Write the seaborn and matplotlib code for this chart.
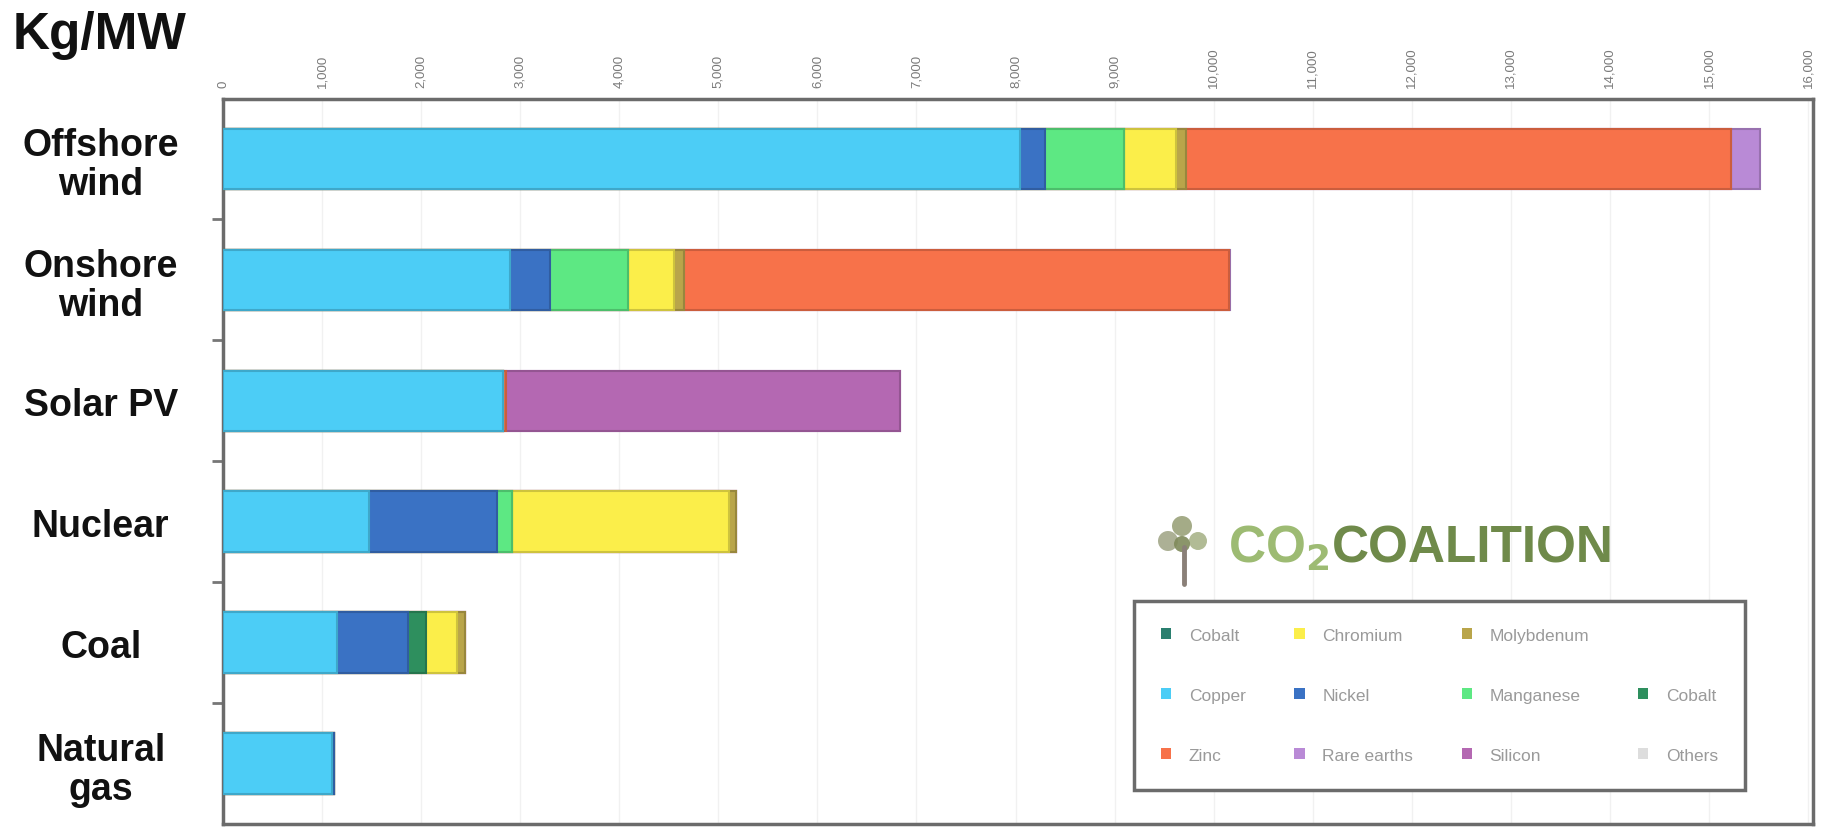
import numpy as np
import pandas as pd
import matplotlib
matplotlib.use("Agg")
import matplotlib.pyplot as plt
import matplotlib.colors as mcolors
from matplotlib.patches import Patch, Ellipse
from matplotlib.lines import Line2D
import seaborn as sns

# ---------------- data (kg per MW) ----------------
categories = ["Offshore\nwind", "Onshore\nwind", "Solar PV", "Nuclear", "Coal", "Natural\ngas"]
copper      = [8050, 2900, 2822, 1473, 1150, 1100]
nickel      = [250, 404, 0, 1297, 721, 20]
manganese   = [790, 780, 0, 148, 0, 0]
cobalt      = [0, 0, 0, 0, 180, 0]
chromium    = [525, 470, 0, 2190, 308, 0]
molybdenum  = [109, 99, 0, 70, 80, 0]
zinc        = [5500, 5500, 30, 0, 0, 0]
silicon     = [0, 0, 3982, 0, 0, 0]
rare_earths = [290, 14, 0, 0, 0, 0]

x_ticks = list(range(0, 16001, 1000))

legend_labels = ["Cobalt", "Copper", "Zinc",
                 "Chromium", "Nickel", "Rare earths",
                 "Molybdenum", "Manganese", "Silicon",
                 "", "Cobalt", "Others"]

# ---------------- styling ----------------
colors = {
    "Copper": "#4ccdf6",
    "Nickel": "#3a72c4",
    "Manganese": "#5de883",
    "Cobalt": "#2e8f5e",
    "Chromium": "#fbee4a",
    "Molybdenum": "#b9a54a",
    "Zinc": "#f7724a",
    "Silicon": "#b468b2",
    "Rare earths": "#b98ad6",
    "Others": "#dddddd",
}
legend_colors = ["#2a7f6f", colors["Copper"], colors["Zinc"],
                 colors["Chromium"], colors["Nickel"], colors["Rare earths"],
                 colors["Molybdenum"], colors["Manganese"], colors["Silicon"],
                 None, colors["Cobalt"], colors["Others"]]

series = {
    "Copper": copper, "Nickel": nickel, "Manganese": manganese, "Cobalt": cobalt,
    "Chromium": chromium, "Molybdenum": molybdenum, "Zinc": zinc,
    "Silicon": silicon, "Rare earths": rare_earths,
}
order = list(series.keys())

df = pd.DataFrame({"category": categories, **series})
cum = df[order].cumsum(axis=1)

sns.set_theme(style="white")
plt.rcParams['font.family'] = ['Liberation Sans', 'DejaVu Sans']
plt.rcParams['mathtext.default'] = 'bf'

fig = plt.figure(figsize=(18.35, 8.29), dpi=100)
ax = fig.add_axes([223 / 1835, 4 / 829, 1590 / 1835, 725.5 / 829])

def darker(c, f=0.82):
    r, g, b = mcolors.to_rgb(c)
    return (r * f, g * f, b * f)

for m in reversed(order):
    sns.barplot(x=cum[m], y=df["category"], orient="h", color=colors[m],
                saturation=1, width=0.5, edgecolor=darker(colors[m]),
                linewidth=1.5, ax=ax, zorder=3)

ax.set_xlim(0, 16050)
ax.set_ylim(5.5, -0.5)
ax.set_xlabel("")
ax.set_ylabel("")

# x axis on top
ax.set_xticks(x_ticks)
ax.set_xticklabels([f"{v:,}" for v in x_ticks])
ax.xaxis.tick_top()
ax.tick_params(axis="x", length=0, labelsize=9.5, labelcolor="#7a7a7a",
               rotation=90, pad=8)
ax.xaxis.grid(True, color="#f1f1f1", lw=1, zorder=0)
ax.set_axisbelow(True)

# y axis
ax.tick_params(axis="y", which="major", length=0, pad=88, labelsize=27)
for lbl in ax.get_yticklabels():
    lbl.set_fontweight("bold")
    lbl.set_ha("center")
    lbl.set_multialignment("center")
    lbl.set_linespacing(1.12)
    lbl.set_color("#111111")
ax.set_yticks(np.arange(0.5, 5.0, 1.0), minor=True)
ax.tick_params(axis="y", which="minor", length=8, width=2, color="#777777",
               direction="out", left=True)

for s in ax.spines.values():
    s.set_visible(True)
    s.set_color("#6b6b6b")
    s.set_linewidth(2.5)

# legend
handles = []
for c in legend_colors:
    if c is None:
        handles.append(Patch(facecolor="none", edgecolor="none"))
    else:
        handles.append(Patch(facecolor=c, edgecolor="none"))
leg = ax.legend(handles, legend_labels, ncol=4, loc="lower left",
                bbox_to_anchor=(0.5676, 0.035, 0.395, 0.267), mode="expand",
                frameon=True, fancybox=False, edgecolor="#6b6b6b",
                framealpha=1, fontsize=12.5, labelcolor="#9a9a9a",
                handlelength=0.6, handleheight=0.6, labelspacing=2.6,
                borderpad=1.55, handletextpad=1.0)
leg.get_frame().set_linewidth(2.5)
leg.set_zorder(5)

# unit label
fig.text(13 / 1835, 1 - 36 / 829, "Kg/MW", fontsize=37, fontweight="bold",
         va="center", ha="left", color="#111111")

# logo
t1 = fig.text(1228 / 1835, 1 - 549 / 829, "CO$_2$", fontsize=37, fontweight="bold",
              color="#9dbb73", va="center", ha="left")
fig.canvas.draw()
bb = t1.get_window_extent()
fig.text(bb.x1 / fig.bbox.width + 0.001, 1 - 549 / 829, "COALITION", fontsize=37,
         fontweight="bold", color="#6f8a4a", va="center", ha="left")
# tree icon (pixel coords -> inches)
tr = fig.dpi_scale_trans
fig.add_artist(Line2D([11.84, 11.84], [(829 - 585) / 100, (829 - 548) / 100],
                      transform=tr, color="#8a8078", lw=3.5))
for (cx, cy, w, col) in [(11.68, 829 - 542, 0.20, "#a3a88a"),
                         (11.98, 829 - 542, 0.18, "#a9b48a"),
                         (11.82, 829 - 527, 0.20, "#9aa27a"),
                         (11.82, 829 - 545, 0.16, "#7f8a5a")]:
    fig.add_artist(Ellipse((cx, cy / 100), w, w, transform=tr,
                           facecolor=col, edgecolor="none", alpha=0.9))

fig.savefig("out.png", dpi=100)
